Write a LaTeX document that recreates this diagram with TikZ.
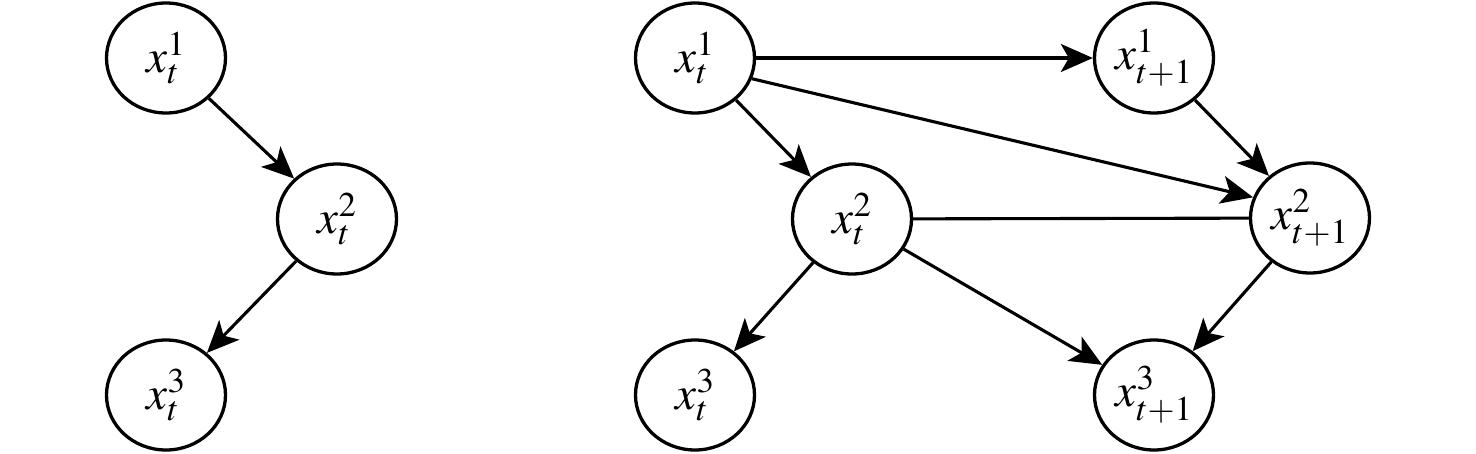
\documentclass[tikz,border=0pt]{standalone}
\usepackage{mathptmx}
\usetikzlibrary{shapes.geometric,arrows.meta}
\begin{document}
\begin{tikzpicture}[x=1pt,y=-1pt,
  var/.style={draw, ellipse, line width=3.3pt, minimum width=119pt, minimum height=110pt, inner sep=0pt, font=\fontsize{47}{52}\selectfont},
  edge/.style={line width=3.1pt},
  arr/.style={edge, -{Stealth[length=32pt,width=28pt,inset=8pt]}}]
\useasboundingbox (0,0) rectangle (1476,453);
% left graph
\node[var] (a1) at (166,58) {$x_t^1$};
\node[var] (a2) at (337,219) {$x_t^2$};
\node[var] (a3) at (166,395) {$x_t^3$};
\draw[arr] (a1) -- (a2);
\draw[arr] (a2) -- (a3);
% right graph
\node[var] (b1) at (695,58) {$x_t^1$};
\node[var] (b2) at (852,219) {$x_t^2$};
\node[var] (b3) at (695,395) {$x_t^3$};
\node[var] (c1) at (1154,58) {$x_{t+1}^1$};
\node[var] (c2) at (1310,218) {$x_{t+1}^2$};
\node[var] (c3) at (1154,395) {$x_{t+1}^3$};
\draw[arr] (b1) -- (c1);
\draw[arr] (b1.-20) -- (c2.160);
\draw[arr] (b1) -- (b2);
\draw[arr] (c1) -- (c2);
\draw[edge] (b2) -- (c2);
\draw[arr] (b2) -- (b3);
\draw[arr] (b2) -- (c3);
\draw[arr] (c2) -- (c3);
\end{tikzpicture}
\end{document}
